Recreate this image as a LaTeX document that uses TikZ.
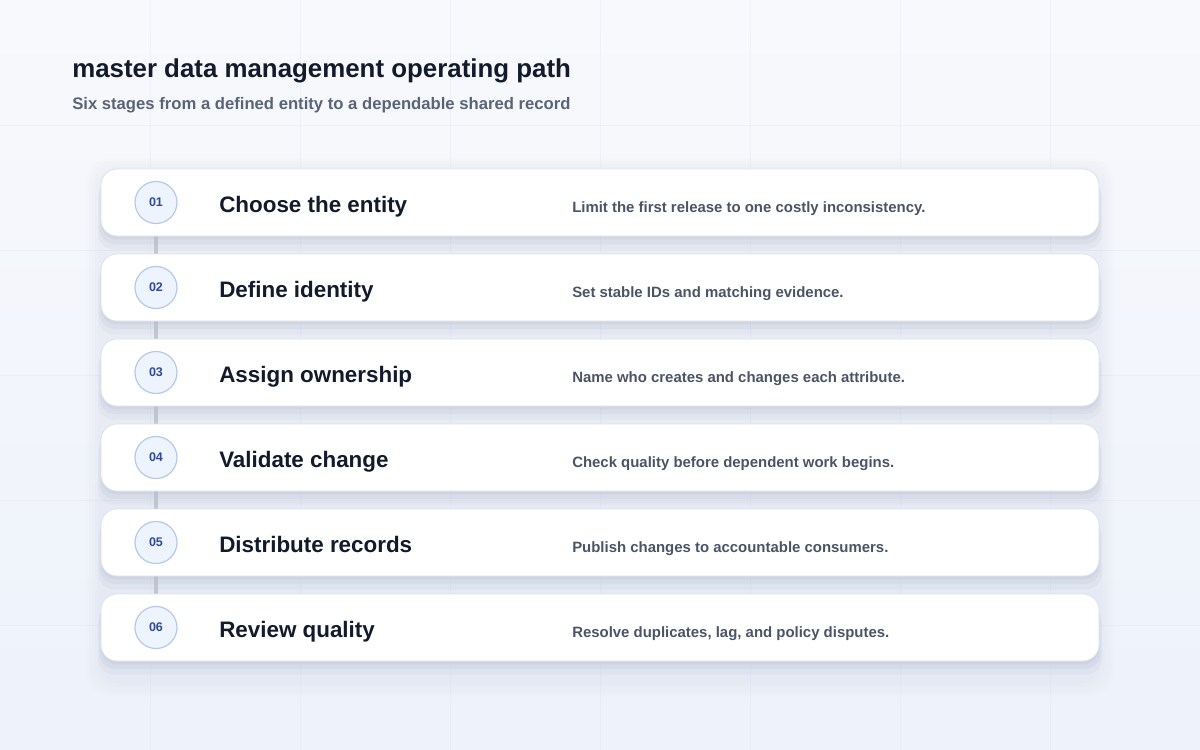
\documentclass[tikz,border=0pt]{standalone}
\usepackage{fontspec}
\setmainfont{Liberation Sans}
\usetikzlibrary{positioning,shadows}

\definecolor{bgtop}{HTML}{F8F9FC}
\definecolor{bgbot}{HTML}{EDF2FB}
\definecolor{gridc}{HTML}{DDE3EE}
\definecolor{cardline}{HTML}{DCE2EC}
\definecolor{shadowc}{HTML}{B3BBCE}
\definecolor{badgefill}{HTML}{EEF4FD}
\definecolor{badgeline}{HTML}{B6C9E6}
\definecolor{badgeink}{HTML}{2E4C8F}
\definecolor{inkdark}{HTML}{131A2B}
\definecolor{inkgrey}{HTML}{4B5466}
\definecolor{subgrey}{HTML}{5A6476}
\definecolor{linkgrey}{HTML}{C3C7CF}

\pgfdeclarelayer{bg}
\pgfdeclarelayer{back}
\pgfsetlayers{bg,back,main}

\tikzset{
  stage/.style={rectangle, rounded corners=12pt, draw=cardline, fill=white, line width=0.6pt,
    minimum width=748.5pt, minimum height=50.25pt, outer sep=0pt,
    general shadow={fill=shadowc, opacity=.12, shadow yshift=-10pt, shadow scale=1.006},
    general shadow={fill=shadowc, opacity=.18, shadow yshift=-6pt, shadow scale=1.003},
    general shadow={fill=shadowc, opacity=.22, shadow yshift=-2.5pt}},
  badge/.style={circle, draw=badgeline, fill=badgefill, line width=0.9pt, minimum size=31.5pt,
    inner sep=0pt, text=badgeink, font=\bfseries\fontsize{9.4}{10}\selectfont},
  stagetitle/.style={anchor=base west, inner sep=0pt, text=inkdark, font=\bfseries\fontsize{16.8}{18}\selectfont},
  stagenote/.style={anchor=base west, inner sep=0pt, text=inkgrey, font=\bfseries\fontsize{11.2}{13}\selectfont},
  link/.style={draw=linkgrey, line width=3pt},
}

\begin{document}
\begin{tikzpicture}[x=0.75pt, y=-0.75pt]
  \useasboundingbox (0,0) rectangle (1200,750);

  % backdrop and grid
  \begin{pgfonlayer}{bg}
    \shade [top color=bgtop, bottom color=bgbot] (0,0) rectangle (1200,750);
    \foreach \x in {150,300,...,1050} \draw [gridc, opacity=.35, line width=0.75pt] (\x,0) -- (\x,750);
    \foreach \y in {125,250,...,625} \draw [gridc, opacity=.35, line width=0.75pt] (0,\y) -- (1200,\y);
    \foreach \g in {0,3,6,9,12} \fill [shadowc, opacity=.025, rounded corners=18pt] (86+\g,158+\g) rectangle (1114-\g,696-\g);
  \end{pgfonlayer}

  \node (heading) [anchor=base west, inner sep=0pt, text=inkdark, font=\bfseries\fontsize{19.4}{22}\selectfont] at (72,77) {master data management operating path};
  \node (subheading) [anchor=base west, inner sep=0pt, text=subgrey, font=\bfseries\fontsize{12.5}{14}\selectfont] at (72,109.5) {Six stages from a defined entity to a dependable shared record};

  % stage cards
  \node (stage1) [stage] at (600,202.5) {};
  \node (stage2) [stage, below=13.5pt of stage1] {};
  \node (stage3) [stage, below=13.5pt of stage2] {};
  \node (stage4) [stage, below=13.5pt of stage3] {};
  \node (stage5) [stage, below=13.5pt of stage4] {};
  \node (stage6) [stage, below=13.5pt of stage5] {};

  \node (num1) [badge] at ([xshift=41.25pt]stage1.west) {01};
  \node (num2) [badge] at ([xshift=41.25pt]stage2.west) {02};
  \node (num3) [badge] at ([xshift=41.25pt]stage3.west) {03};
  \node (num4) [badge] at ([xshift=41.25pt]stage4.west) {04};
  \node (num5) [badge] at ([xshift=41.25pt]stage5.west) {05};
  \node (num6) [badge] at ([xshift=41.25pt]stage6.west) {06};

  \node (title1) [stagetitle] at ([xshift=88.5pt, yshift=-7.3pt]stage1.west) {Choose the entity};
  \node (title2) [stagetitle] at ([xshift=88.5pt, yshift=-7.3pt]stage2.west) {Define identity};
  \node (title3) [stagetitle] at ([xshift=88.5pt, yshift=-7.3pt]stage3.west) {Assign ownership};
  \node (title4) [stagetitle] at ([xshift=88.5pt, yshift=-7.3pt]stage4.west) {Validate change};
  \node (title5) [stagetitle] at ([xshift=88.5pt, yshift=-7.3pt]stage5.west) {Distribute records};
  \node (title6) [stagetitle] at ([xshift=88.5pt, yshift=-7.3pt]stage6.west) {Review quality};

  \node (note1) [stagenote] at ([xshift=353.25pt, yshift=-7.5pt]stage1.west) {Limit the first release to one costly inconsistency.};
  \node (note2) [stagenote] at ([xshift=353.25pt, yshift=-7.5pt]stage2.west) {Set stable IDs and matching evidence.};
  \node (note3) [stagenote] at ([xshift=353.25pt, yshift=-7.5pt]stage3.west) {Name who creates and changes each attribute.};
  \node (note4) [stagenote] at ([xshift=353.25pt, yshift=-7.5pt]stage4.west) {Check quality before dependent work begins.};
  \node (note5) [stagenote] at ([xshift=353.25pt, yshift=-7.5pt]stage5.west) {Publish changes to accountable consumers.};
  \node (note6) [stagenote] at ([xshift=353.25pt, yshift=-7.5pt]stage6.west) {Resolve duplicates, lag, and policy disputes.};

  % path between the badges, behind the cards
  \begin{pgfonlayer}{back}
    \draw [link] (num1) -- (num2);
    \draw [link] (num2) -- (num3);
    \draw [link] (num3) -- (num4);
    \draw [link] (num4) -- (num5);
    \draw [link] (num5) -- (num6);
  \end{pgfonlayer}
\end{tikzpicture}
\end{document}
